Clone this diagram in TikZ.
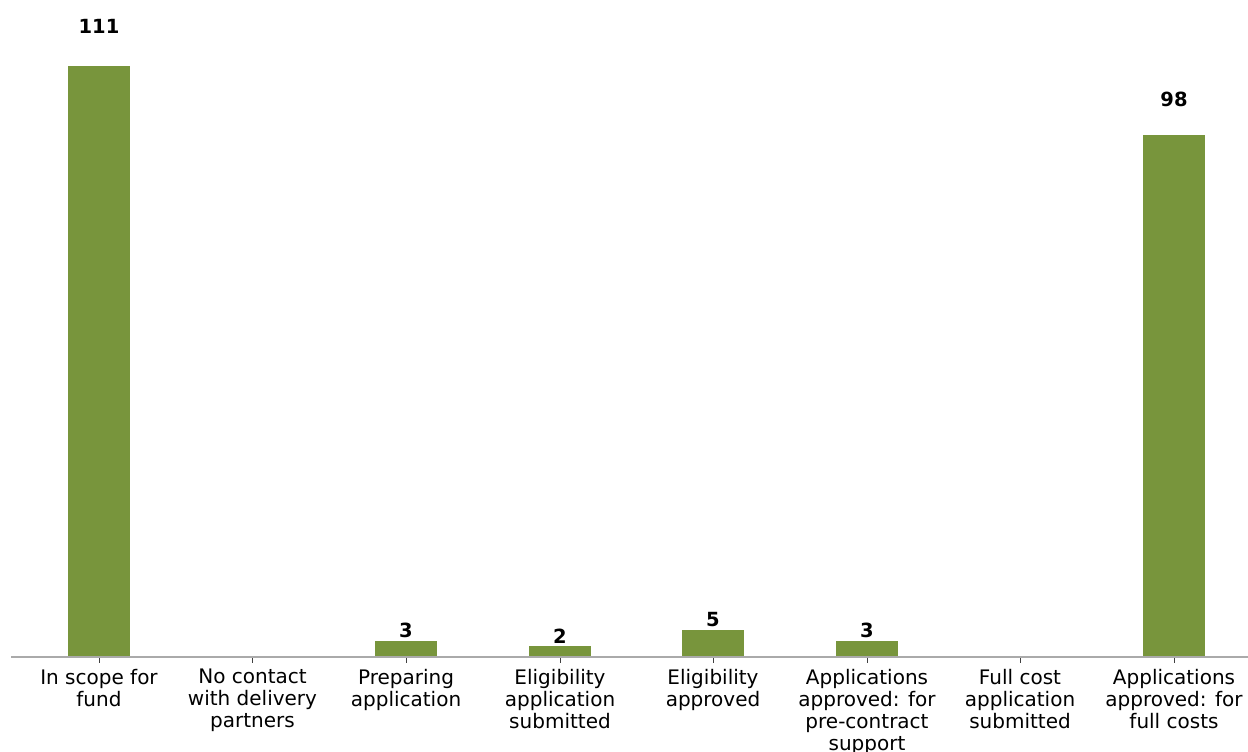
\documentclass[tikz,border=0pt]{standalone}
\usepackage{fontspec}
\setmainfont{DejaVu Sans}
\definecolor{barg}{HTML}{78953C}
\definecolor{axisg}{HTML}{AAAAAA}
\tikzset{
  bar/.style={fill=barg, draw=none},
  val/.style={font=\bfseries\fontsize{19.5}{22}\selectfont, inner sep=0pt, anchor=center},
  cat/.style={font=\fontsize{20}{22}\selectfont, align=center, inner sep=0pt, anchor=north},
  axisline/.style={draw=axisg, line width=1.2pt},
  tickline/.style={draw=black!75, line width=1pt}
}
\begin{document}
\begin{tikzpicture}[x=1pt,y=-1pt]
\useasboundingbox (0,0) rectangle (1248,752);
% bars
\fill[bar] (68,66) rectangle (130,657);
\fill[bar] (375,641) rectangle (437,657);
\fill[bar] (529,646.4) rectangle (591,657);
\fill[bar] (682,630.4) rectangle (744,657);
\fill[bar] (836,641) rectangle (898,657);
\fill[bar] (1143,135) rectangle (1205,657);
% axis
\coordinate (axl) at (11,657);
\coordinate (axr) at (1248,657);
\draw[axisline] (axl) -- (axr);
\foreach \x in {99,252.5,406,560,713,867,1020,1174}{
  \draw[tickline] (\x,658) -- (\x,663);
}
% values
\node[val] (v1) at (99,26) {111};
\node[val] (v3) at (406,630) {3};
\node[val] (v4) at (560,636) {2};
\node[val] (v5) at (713,619.5) {5};
\node[val] (v6) at (867,630) {3};
\node[val] (v8) at (1174,99) {98};
% categories
\node[cat] (c1) at (99,669) {In scope for\\fund};
\node[cat] (c2) at (252.5,669) {No contact\\with delivery\\partners};
\node[cat] (c3) at (406,669) {Preparing\\application};
\node[cat] (c4) at (560,669) {Eligibility\\application\\submitted};
\node[cat] (c5) at (713,669) {Eligibility\\approved};
\node[cat] (c6) at (867,669) {Applications\\approved: for\\pre-contract\\support};
\node[cat] (c7) at (1020,669) {Full cost\\application\\submitted};
\node[cat] (c8) at (1174,669) {Applications\\approved: for\\full costs};
\end{tikzpicture}
\end{document}
